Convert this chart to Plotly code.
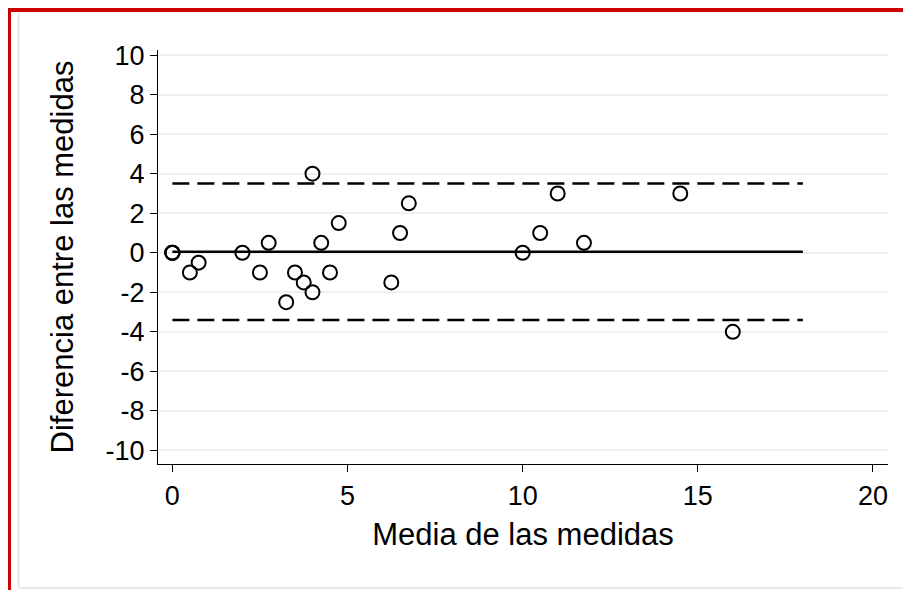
import plotly.graph_objects as go

# Data (Bland-Altman style)
media = [0, 0, 0, 0.5, 0.75, 2, 2.5, 2.75, 3.25, 3.5, 3.75, 4, 4, 4.25, 4.5, 4.75,
         6.25, 6.5, 6.75, 10, 10.5, 11, 11.75, 14.5, 16]
diferencia = [0, 0, 0, -1, -0.5, 0, -1, 0.5, -2.5, -1, -1.5, -2, 4, 0.5, -1, 1.5,
              -1.5, 1, 2.5, 0, 1, 3, 0.5, 3, -4]
ref_x = [0, 18]
mean_diff = 0.05
upper_lim = 3.5
lower_lim = -3.4
x_ticks = [0, 5, 10, 15, 20]
y_ticks = [-10, -8, -6, -4, -2, 0, 2, 4, 6, 8, 10]
y_ticktext = [str(v) for v in y_ticks]

FONT = "Liberation Sans, Arial, sans-serif"

fig = go.Figure()
fig.add_trace(go.Scatter(x=ref_x, y=[mean_diff, mean_diff], mode="lines",
                         line=dict(color="black", width=2.5), showlegend=False))
fig.add_trace(go.Scatter(x=ref_x, y=[upper_lim, upper_lim], mode="lines",
                         line=dict(color="black", width=2.5, dash="17px,8px"), showlegend=False))
fig.add_trace(go.Scatter(x=ref_x, y=[lower_lim, lower_lim], mode="lines",
                         line=dict(color="black", width=2.5, dash="17px,8px"), showlegend=False))
fig.add_trace(go.Scatter(x=media, y=diferencia, mode="markers",
                         marker=dict(symbol="circle-open", size=14, color="black",
                                     line=dict(width=2, color="black")),
                         showlegend=False, cliponaxis=False))

OFF = 8  # page body margin offset
L, R, T, B = 158 - OFF, 888 - OFF, 50 - OFF, 464 - OFF
W, H = R - L, B - T
def px(x):
    return (x - OFF - L) / W
def py(y):
    return (B - (y - OFF)) / H

shapes = [
    # light gray inner frame
    dict(type="line", xref="paper", yref="paper", x0=px(18.5), x1=px(18.5), y0=py(13), y1=py(588),
         line=dict(color="#DCE5E5", width=1.5)),
    dict(type="line", xref="paper", yref="paper", x0=px(18.5), x1=px(910), y0=py(588), y1=py(588),
         line=dict(color="#DCE5E5", width=1.5)),
    dict(type="line", xref="paper", yref="paper", x0=px(910), x1=px(910), y0=py(13), y1=py(588),
         line=dict(color="#DCE5E5", width=1.5)),
    # red frame
    dict(type="line", xref="paper", yref="paper", x0=px(9), x1=px(9), y0=py(8), y1=py(595),
         line=dict(color="#CC0000", width=4)),
    dict(type="line", xref="paper", yref="paper", x0=px(7), x1=px(915), y0=py(10), y1=py(10),
         line=dict(color="#CC0000", width=4)),
]

fig.update_layout(
    width=911, height=590,
    margin=dict(l=L, r=911 - R, t=T, b=590 - B),
    paper_bgcolor="white", plot_bgcolor="white",
    font=dict(family=FONT, color="black", size=27),
    shapes=shapes,
    xaxis=dict(range=[-0.41, 20.43], tickvals=x_ticks, ticks="outside", ticklen=7,
               tickwidth=1, tickcolor="black", showline=True, linecolor="black", linewidth=1.2,
               showgrid=False, zeroline=False, tickfont=dict(size=27),
               title=dict(text="Media de las medidas", font=dict(size=31), standoff=13)),
    yaxis=dict(range=[-10.69, 10.26], tickvals=y_ticks, ticktext=y_ticktext, ticks="outside",
               ticklen=7, tickwidth=1, tickcolor="black", showline=True, linecolor="black",
               linewidth=1.2, showgrid=True, gridcolor="#EAF2F3", gridwidth=2, zeroline=False,
               tickfont=dict(size=27),
               title=dict(text="Diferencia entre las medidas", font=dict(size=31), standoff=22)),
)

fig.write_html("out.html")
